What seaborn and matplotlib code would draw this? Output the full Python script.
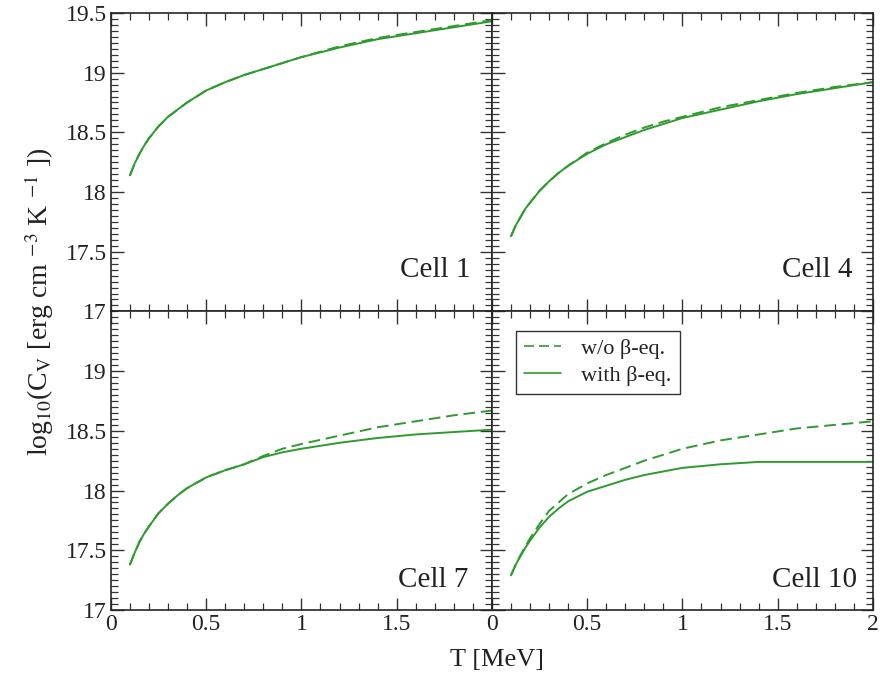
import numpy as np
import pandas as pd
import matplotlib
matplotlib.use("Agg")
import matplotlib.pyplot as plt
from matplotlib.ticker import MultipleLocator, FuncFormatter, FixedLocator
import seaborn as sns

# ---- data ----
T = [0.1, 0.125, 0.15, 0.175, 0.2, 0.25, 0.3, 0.35, 0.4, 0.5, 0.6, 0.7, 0.8, 0.9, 1.0, 1.2, 1.4, 1.6, 1.8, 2.0]

cell1_with = [18.14, 18.24, 18.32, 18.39, 18.45, 18.55, 18.63, 18.69, 18.75, 18.85, 18.92, 18.98, 19.03, 19.08, 19.13, 19.21, 19.28, 19.33, 19.38, 19.43]
cell1_wo   = [18.14, 18.24, 18.32, 18.39, 18.45, 18.55, 18.63, 18.69, 18.75, 18.85, 18.92, 18.98, 19.03, 19.08, 19.13, 19.22, 19.29, 19.34, 19.39, 19.44]

cell4_with = [17.63, 17.72, 17.79, 17.86, 17.91, 18.01, 18.09, 18.16, 18.22, 18.32, 18.40, 18.46, 18.52, 18.57, 18.62, 18.69, 18.76, 18.82, 18.87, 18.92]
cell4_wo   = [17.63, 17.72, 17.79, 17.86, 17.91, 18.01, 18.09, 18.16, 18.22, 18.33, 18.41, 18.48, 18.54, 18.59, 18.63, 18.71, 18.77, 18.83, 18.88, 18.92]

cell7_with = [17.38, 17.48, 17.57, 17.64, 17.70, 17.81, 17.89, 17.96, 18.02, 18.11, 18.17, 18.22, 18.28, 18.32, 18.35, 18.40, 18.44, 18.47, 18.49, 18.51]
cell7_wo   = [17.38, 17.48, 17.57, 17.64, 17.70, 17.81, 17.89, 17.96, 18.02, 18.11, 18.17, 18.22, 18.29, 18.35, 18.39, 18.46, 18.53, 18.58, 18.63, 18.67]

cell10_with = [17.29, 17.38, 17.45, 17.52, 17.58, 17.69, 17.78, 17.85, 17.91, 17.99, 18.04, 18.09, 18.13, 18.16, 18.19, 18.22, 18.24, 18.24, 18.24, 18.24]
cell10_wo   = [17.29, 17.38, 17.46, 17.53, 17.60, 17.72, 17.83, 17.90, 17.97, 18.06, 18.13, 18.19, 18.25, 18.30, 18.35, 18.42, 18.47, 18.52, 18.55, 18.58]

cells = ["Cell 1", "Cell 4", "Cell 7", "Cell 10"]
series_names = ["w/o \u03b2-eq.", "with \u03b2-eq."]
values = {
    "Cell 1": (cell1_wo, cell1_with),
    "Cell 4": (cell4_wo, cell4_with),
    "Cell 7": (cell7_wo, cell7_with),
    "Cell 10": (cell10_wo, cell10_with),
}

rows = []
for c in cells:
    for name, vals in zip(series_names, values[c]):
        for t, v in zip(T, vals):
            rows.append({"cell": c, "series": name, "T": t, "logC": v})
df = pd.DataFrame(rows)

# ---- style ----
sns.set_theme(style="ticks")
plt.rcParams["font.family"] = ["Liberation Serif", "DejaVu Serif"]
plt.rcParams["mathtext.fontset"] = "stix"
plt.rcParams["axes.linewidth"] = 1.2

green = "#2f9a2f"
txtcol = "#222222"

fig, axes = plt.subplots(2, 2, figsize=(8.8, 6.8), dpi=100, sharex=False, sharey=False)
fig.subplots_adjust(left=0.126, right=0.992, top=0.981, bottom=0.103, wspace=0, hspace=0)

label_pos = {"Cell 1": (0.943, 0.14), "Cell 4": (0.947, 0.14),
             "Cell 7": (0.938, 0.10), "Cell 10": (0.957, 0.10)}

for idx, c in enumerate(cells):
    ax = axes.flat[idx]
    sub = df[df["cell"] == c]
    sns.lineplot(data=sub, x="T", y="logC", style="series", style_order=series_names,
                 dashes={series_names[0]: (6, 3), series_names[1]: ""},
                 color=green, linewidth=1.4, ax=ax, legend=(c == "Cell 10"))
    ax.set_xlim(0, 2)
    ax.set_ylim(17, 19.5)
    ax.set_xlabel("")
    ax.set_ylabel("")
    ax.xaxis.set_major_locator(MultipleLocator(0.5))
    ax.xaxis.set_minor_locator(MultipleLocator(0.1))
    ax.yaxis.set_major_locator(MultipleLocator(0.5))
    ax.yaxis.set_minor_locator(MultipleLocator(0.05))
    ax.tick_params(which="both", direction="in", top=True, right=True,
                   bottom=True, left=True, colors="#333333")
    ax.tick_params(which="major", length=9, width=1.0, labelsize=17, labelcolor=txtcol, pad=3)
    ax.tick_params(which="minor", length=5, width=0.9)
    fmt = FuncFormatter(lambda v, p: ("%g" % v))
    ax.xaxis.set_major_formatter(fmt)
    ax.yaxis.set_major_formatter(fmt)
    col = idx % 2
    row = idx // 2
    if col == 1:
        ax.tick_params(labelleft=False)
    if row == 0:
        ax.tick_params(labelbottom=False)
    tx, ty = label_pos[c]
    ax.text(tx, ty, c, transform=ax.transAxes, ha="right", va="center",
            fontsize=21, color=txtcol)

# per-panel tick label pruning
axes[1, 0].xaxis.set_major_locator(FixedLocator([0, 0.5, 1, 1.5]))
axes[1, 0].xaxis.set_minor_locator(MultipleLocator(0.1))
axes[1, 0].yaxis.set_major_locator(FixedLocator([17, 17.5, 18, 18.5, 19]))
axes[1, 0].yaxis.set_minor_locator(MultipleLocator(0.05))

leg_ax = axes[1, 1]
leg = leg_ax.legend(loc="upper left", bbox_to_anchor=(0.063, 0.936), borderaxespad=0,
                    frameon=True, fancybox=False, edgecolor="black", fontsize=16,
                    handlelength=1.7, handletextpad=0.9, borderpad=0.35,
                    labelspacing=0.3, title=None)
leg.get_frame().set_linewidth(1.0)
for line in leg.get_lines():
    line.set_color(green)
    line.set_linewidth(1.2)
for t in leg.get_texts():
    t.set_color(txtcol)

fig.text(0.565, 0.03, "T [MeV]", ha="center", va="center", fontsize=19, color=txtcol)
fig.text(0.045, 0.556, r"log$_{10}$(C$_{\mathrm{V}}$ [erg cm $^{-3}$ K $^{-1}$ ])", rotation=90,
         ha="center", va="center", fontsize=20, color=txtcol)

fig.savefig("out.png", dpi=100)
